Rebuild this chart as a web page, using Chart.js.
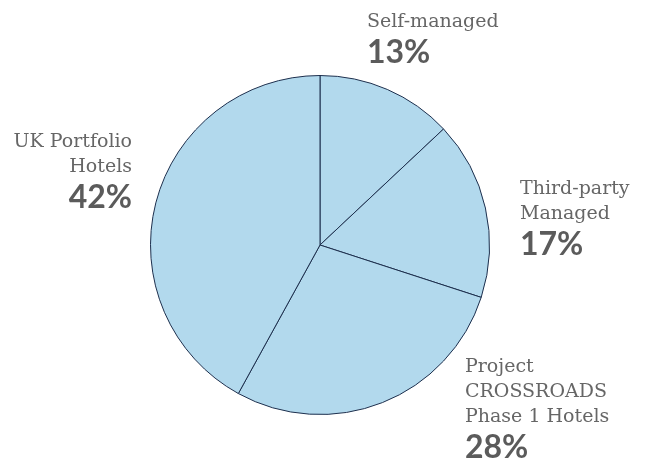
<!DOCTYPE html>
<html>
<head>
<meta charset="utf-8">
<script src="https://cdn.jsdelivr.net/npm/chart.js@4"></script>
<style>
  html, body { margin: 0; padding: 0; background: #fff; }
  #wrap { width: 647px; height: 462px; }
</style>
</head>
<body>
<div id="wrap"><canvas id="myChart" width="647" height="462"></canvas></div>
<script>
// data
const categories = ['Self-managed', 'Third-party Managed', 'Project CROSSROADS Phase 1 Hotels', 'UK Portfolio Hotels'];
const shares = [13, 17, 28, 42];
const labelLines = [['Self-managed'], ['Third-party', 'Managed'], ['Project', 'CROSSROADS', 'Phase 1 Hotels'], ['UK Portfolio', 'Hotels']];

// where each label block sits (x, baseline of first line, alignment)
const labelSpots = [
  { x: 367, y: 27, align: 'left' },
  { x: 520, y: 194, align: 'left' },
  { x: 465, y: 372, align: 'left' },
  { x: 132, y: 147, align: 'right' }
];

const pieLabels = {
  id: 'pieLabels',
  afterDraw(chart) {
    const c = chart.ctx;
    c.save();
    labelSpots.forEach((s, i) => {
      c.textAlign = s.align;
      c.textBaseline = 'alphabetic';
      c.fillStyle = '#666';
      c.font = '19px "DejaVu Serif"';
      let y = s.y;
      labelLines[i].forEach(line => {
        c.fillText(line, s.x, y);
        y += 25;
      });
      c.fillStyle = '#5b5b5b';
      c.font = 'bold 32px Lato';
      c.fillText(shares[i] + '%', s.x, y + 11);
    });
    c.restore();
  }
};

const ctx = document.getElementById('myChart');

new Chart(ctx, {
  type: 'pie',
  data: {
    labels: categories,
    datasets: [{
      data: shares,
      backgroundColor: '#b2d9ed',
      borderColor: '#1d2f4d',
      borderWidth: 1
    }]
  },
  options: {
    responsive: false,
    animation: false,
    rotation: 0,
    layout: { padding: { top: 75, bottom: 47, left: 0, right: 7 } },
    plugins: {
      legend: { display: false },
      tooltip: { enabled: false }
    }
  },
  plugins: [pieLabels]
});
</script>
</body>
</html>
